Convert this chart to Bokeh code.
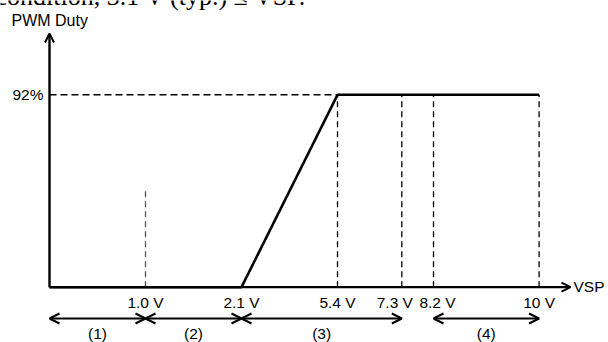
from bokeh.plotting import figure
from bokeh.models import Range1d, Arrow, OpenHead, ColumnDataSource
from bokeh.embed import file_html
from bokeh.resources import INLINE
from bokeh.core.properties import value

# ---------------- data ----------------
vsp_volts = [1.0, 2.1, 5.4, 7.3, 8.2, 10.0]
vsp_labels = ["1.0 V", "2.1 V", "5.4 V", "7.3 V", "8.2 V", "10 V"]
duty_volts = [0.0, 2.1, 5.4, 10.0]
duty_pct = [0, 0, 92, 92]
duty_max = 92
duty_label = "92%"
guide_volts = [1.0, 5.4, 7.3, 8.2, 10.0]
guide_top = [46, 92, 92, 92, 92]
region_names = ["(1)", "(2)", "(3)", "(4)"]
region_start = [0.0, 1.0, 2.1, 8.2]
region_end = [1.0, 2.1, 7.3, 10.0]
title_text = "condition, 3.1 V (typ.) \u2264 VSP."

# ------------- schematic (non-linear) voltage axis -------------
slot = {0.0: 0.0, 1.0: 1.0, 2.1: 2.0, 5.4: 3.0, 7.3: 3.67, 8.2: 4.0, 10.0: 5.1}
label_dx = {1.0: 0, 2.1: 0, 5.4: 0, 7.3: -7, 8.2: 4, 10.0: 0}

W, H = 608, 342
x0_px, unit_px = 49, 96.0
base_px, top_px = 286.7, 94.3
k = (base_px - top_px) / duty_max

p = figure(width=W, height=H, output_backend="svg", toolbar_location=None,
           x_range=Range1d(-x0_px / unit_px, (W - x0_px) / unit_px),
           y_range=Range1d(-(H - base_px) / k, base_px / k),
           min_border=0, x_axis_type=None, y_axis_type=None)
p.outline_line_color = None
p.grid.visible = False
p.background_fill_color = "white"

FONT = value("Liberation Sans")
FS = "15.5px"
y_axis_tip = (base_px - 33) / k
x_axis_tip = (570 - x0_px) / unit_px
arrow_row = -(318 - base_px) / k

# dashed guides
p.segment(x0=[slot[v] for v in guide_volts], y0=[0] * len(guide_volts),
          x1=[slot[v] for v in guide_volts], y1=guide_top,
          line_color=["#555555", "black", "black", "black", "black"],
          line_width=1.3, line_dash="6 4")
p.segment(x0=[0], y0=[duty_max], x1=[slot[5.4]], y1=[duty_max],
          line_color="black", line_width=1.5, line_dash="7 4")

# duty curve
p.line([slot[v] for v in duty_volts], duty_pct, line_color="black", line_width=2.6)

# axes with arrow heads
p.add_layout(Arrow(x_start=0, y_start=0, x_end=0, y_end=y_axis_tip,
                   line_width=2.4, line_color="black",
                   end=OpenHead(size=9, line_width=2, line_color="black")))
p.add_layout(Arrow(x_start=0, y_start=0, x_end=x_axis_tip, y_end=0,
                   line_width=2.2, line_color="black",
                   end=OpenHead(size=9, line_width=2, line_color="black")))

# axis texts
p.text(x=[0], y=[y_axis_tip], text=["PWM Duty"], x_offset=[11 - x0_px],
       y_offset=[-13], text_font=FONT, text_font_size="16px", text_color="black",
       text_align="left", text_baseline="middle")
p.text(x=[x_axis_tip], y=[0], text=["VSP"], x_offset=[3], y_offset=[-1],
       text_font=FONT, text_font_size=FS, text_color="black",
       text_align="left", text_baseline="middle")
p.text(x=[0], y=[duty_max], text=[duty_label], x_offset=[-6], text_font=FONT,
       text_font_size=FS, text_color="black", text_align="right",
       text_baseline="middle")

# tick labels
src = ColumnDataSource(dict(x=[slot[v] for v in vsp_volts], y=[0] * len(vsp_volts),
                            t=vsp_labels, dx=[label_dx[v] for v in vsp_volts]))
p.text(x="x", y="y", text="t", x_offset="dx", y_offset=15, source=src,
       text_font=FONT, text_font_size=FS, text_color="black",
       text_align="center", text_baseline="middle")

# regions
for a, b in zip(region_start, region_end):
    p.add_layout(Arrow(x_start=slot[a], y_start=arrow_row, x_end=slot[b], y_end=arrow_row,
                       line_width=2, line_color="black",
                       start=OpenHead(size=10, line_width=2, line_color="black"),
                       end=OpenHead(size=10, line_width=2, line_color="black")))
p.text(x=[(slot[a] + slot[b]) / 2 for a, b in zip(region_start, region_end)],
       y=[arrow_row] * len(region_names), text=region_names, y_offset=23,
       text_font=FONT, text_font_size=FS, text_color="black",
       text_align="center", text_baseline="bottom")

# clipped heading line from the surrounding document (only its lower part shows)
p.text(x=[0], y=[y_axis_tip], text=[title_text], x_offset=[-5 - x0_px], y_offset=[-3.8 - 33],
       text_font=value("Liberation Serif"), text_font_size="26px", text_color="black",
       text_align="left", text_baseline="middle")

open("out.html", "w").write(file_html(p, INLINE))
